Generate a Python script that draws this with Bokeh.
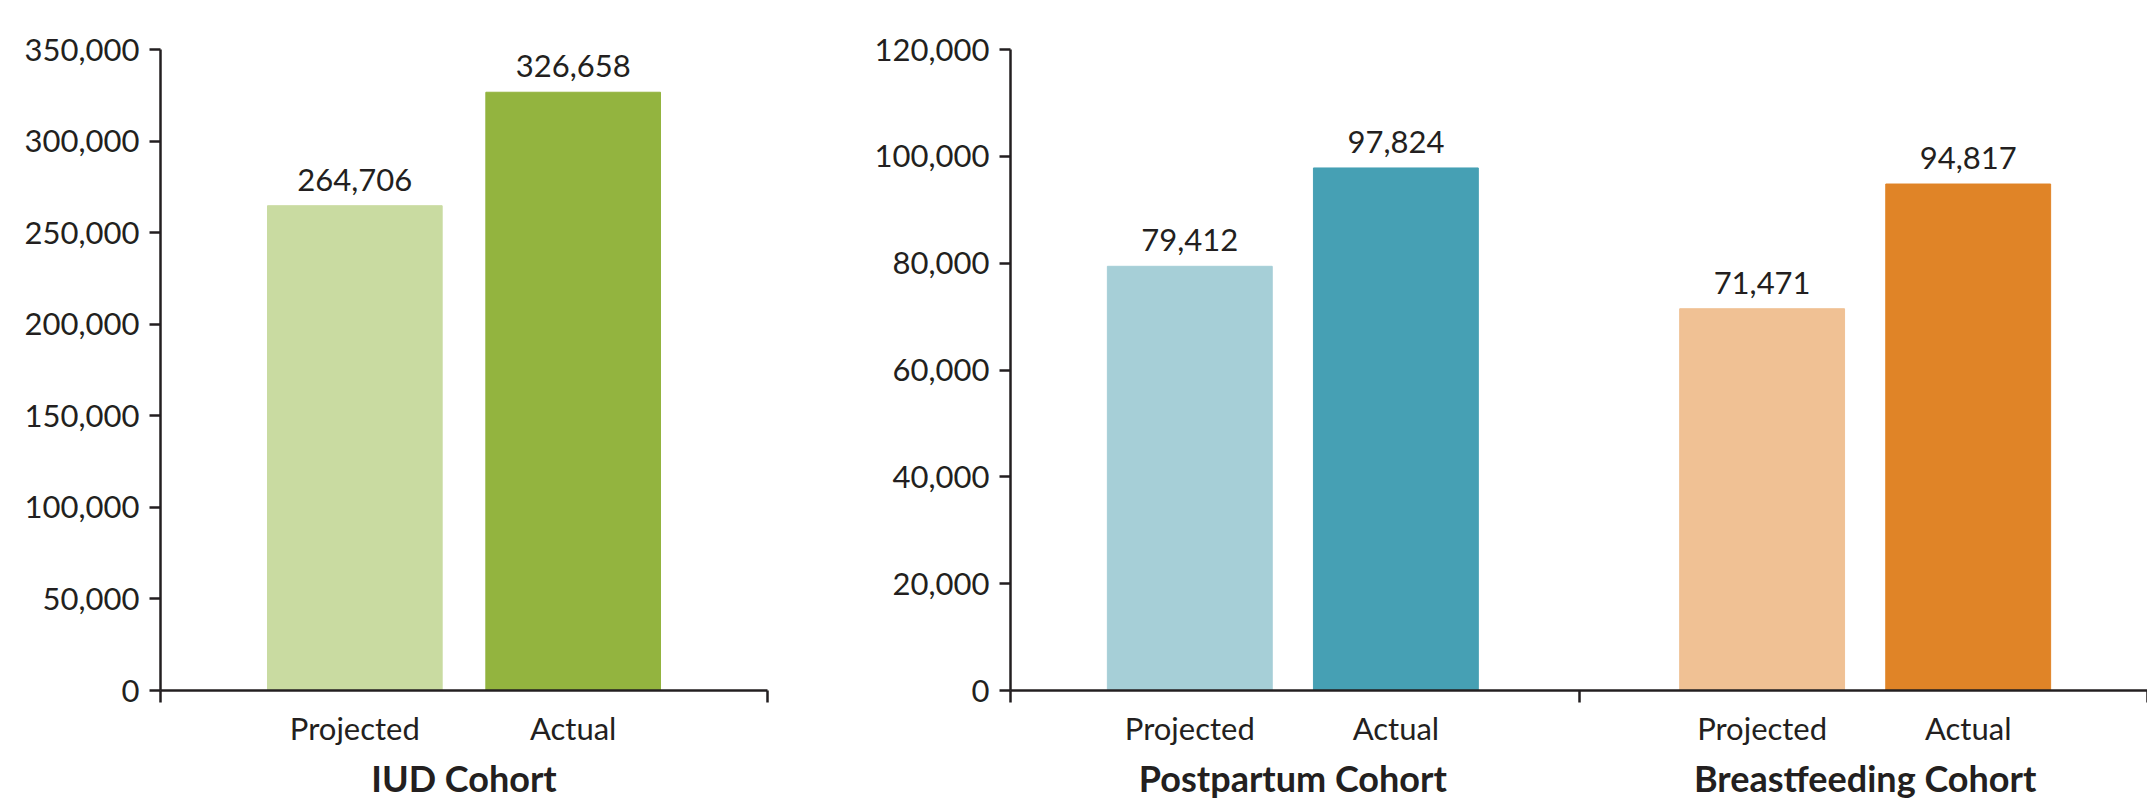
from bokeh.plotting import figure
from bokeh.models import (FactorRange, Range1d, LinearAxis, CategoricalAxis, FixedTicker,
                          SingleIntervalTicker, NumeralTickFormatter, ColumnDataSource)
from bokeh.layouts import row
from bokeh.embed import file_html
from bokeh.resources import INLINE
from bokeh.core.properties import value

# ---------------- data ----------------
measures = ["Projected", "Actual"]

left_cohorts = ["IUD Cohort"]
iud_values = [264706, 326658]
left_colors = ["#c9dba1", "#93b43f"]

right_cohorts = ["Postpartum Cohort", "Breastfeeding Cohort"]
postpartum_values = [79412, 97824]
breastfeeding_values = [71471, 94817]
right_colors = ["#a6cfd7", "#46a0b4", "#f0c194", "#e08427"]

left_ymax, left_step = 350000, 50000
right_ymax, right_step = 120000, 20000

# ---------------- style ----------------
FONT = "Lato"
TXT = "#231f20"
LW = 2.5
GROUP_PAD = 0.777
BAR_W = 0.8
H = 802
FS = "31px"
GFS = "36px"


def make_chart(cohorts, values, colors, ymax, step, width, bl, br, pad):
    factors = [(c, m) for c in cohorts for m in measures]
    xr = FactorRange(*factors, factor_padding=0, group_padding=GROUP_PAD,
                     range_padding=pad, range_padding_units="absolute")
    p = figure(x_range=xr, y_range=Range1d(0, ymax), width=width, height=H,
               x_axis_type=None, y_axis_type=None, output_backend="svg",
               toolbar_location=None, min_border_left=bl, min_border_right=br,
               min_border_top=49, min_border_bottom=H - 691)
    p.outline_line_color = None
    p.background_fill_color = "white"
    p.border_fill_color = "white"

    src = ColumnDataSource(dict(x=factors, top=values, color=colors,
                                label=["{:,}".format(v) for v in values]))
    p.vbar(x="x", top="top", width=BAR_W, color="color", source=src)
    p.text(x="x", y="top", text="label", source=src, text_align="center",
           text_baseline="alphabetic", y_offset=-26, text_font=value(FONT),
           text_font_size=FS, text_color=TXT)

    yaxis = LinearAxis(ticker=SingleIntervalTicker(interval=step),
                       formatter=NumeralTickFormatter(format="0,0"),
                       axis_line_width=LW, axis_line_color=TXT,
                       major_tick_out=11, major_tick_in=0, major_tick_line_width=LW,
                       major_tick_line_color=TXT, minor_tick_line_color=None,
                       major_label_standoff=10, major_label_text_font=FONT,
                       major_label_text_font_size=FS, major_label_text_color=TXT)
    p.add_layout(yaxis, "left")

    n = len(cohorts)
    total = 2 * n + GROUP_PAD * (n - 1)
    eps = 1e-6
    bounds = [-pad + eps] + [2 * i + GROUP_PAD * (i - 0.5) for i in range(1, n)] + [total + pad - eps]
    tick_axis = LinearAxis(ticker=FixedTicker(ticks=bounds, minor_ticks=[]),
                           axis_line_width=LW, axis_line_color=TXT,
                           major_tick_out=12, major_tick_in=0, major_tick_line_width=LW,
                           major_tick_line_color=TXT, minor_tick_line_color=None,
                           major_label_standoff=0, major_label_text_font_size="0px",
                           major_label_text_alpha=0)
    p.add_layout(tick_axis, "below")

    cat_axis = CategoricalAxis(axis_line_color=None, major_tick_line_color=None,
                               major_tick_out=0, major_tick_in=0, minor_tick_line_color=None,
                               major_label_standoff=6, major_label_text_font=FONT,
                               major_label_text_font_size=FS, major_label_text_color=TXT,
                               group_text_font=FONT, group_text_font_size=GFS,
                               group_text_font_style="bold", group_text_color=TXT,
                               separator_line_color=None)
    p.add_layout(cat_axis, "below")
    return p


left = make_chart(left_cohorts, iud_values, left_colors, left_ymax, left_step,
                  width=800, bl=160, br=800 - 767, pad=0.39)
right = make_chart(right_cohorts, postpartum_values + breastfeeding_values, right_colors,
                   right_ymax, right_step, width=2147 - 800, bl=1010 - 800, br=0, pad=0.37)

layout = row(left, right)
open("out.html", "w").write(file_html(layout, INLINE))
